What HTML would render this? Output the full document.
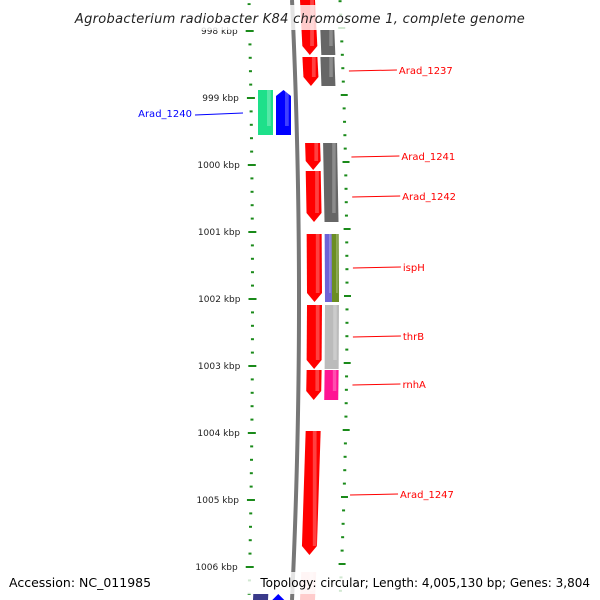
<!DOCTYPE html>
<html><head><meta charset="utf-8"><style>html,body{margin:0;background:#fff;overflow:hidden;width:600px;height:600px}svg{display:block}</style></head>
<body>
<svg id="map" width="600" height="600" viewBox="0 0 600 600" xmlns="http://www.w3.org/2000/svg" font-family="DejaVu Sans, Liberation Sans, sans-serif">
<g id="ticks"></g>
<path id="bb" fill="none" stroke="#777" stroke-width="4"/>
<g id="genes"></g>
<g id="labels"></g>
<rect x="0" y="5" width="600" height="25" fill="#fff" opacity="0.8"/>
<text x="300" y="23" text-anchor="middle" font-size="13" font-style="italic" fill="#222" font-family="DejaVu Sans, sans-serif" letter-spacing="0.3">Agrobacterium radiobacter K84 chromosome 1, complete genome</text>
<rect x="0" y="572" width="600" height="22" fill="#fff" opacity="0.8"/>
<text x="9" y="587" font-size="12.5" fill="#000" font-family="DejaVu Sans, sans-serif">Accession: NC_011985</text>
<text x="590" y="587" text-anchor="end" font-size="12" fill="#000" font-family="DejaVu Sans, sans-serif">Topology: circular; Length: 4,005,130 bp; Genes: 3,804</text>
</svg>
<script>
const kbpLabels = [998,999,1000,1001,1002,1003,1004,1005,1006];
const geneNames = ["Arad_1237","Arad_1240","Arad_1241","Arad_1242","ispH","thrB","rnhA","Arad_1247"];
const geneStart = [57,90,143,171,234,305,370,431];
const geneEnd = [86,135,170,222,302,369,400,555];
const labelY = [71,114,157,197,268,337,385,495];
const NS="http://www.w3.org/2000/svg";
function d(y){const t=(y-300)/300;return 7*(1-t*t);}
function yOfKbp(k){return 31+(k-998)*67;}
function mk(tag,attrs,parent){const e=document.createElementNS(NS,tag);for(const k in attrs)e.setAttribute(k,attrs[k]);parent.appendChild(e);return e;}
let p="";for(let y=0;y<=600;y+=10){p+=(y?"L":"M")+(292+d(y))+" "+y;}
document.getElementById('bb').setAttribute('d',p);
const tg=document.getElementById('ticks');
for(let i=-2;i<=44;i++){
  const y=yOfKbp(998)+i*13.4;const major=i%5===0;
  const xl=249+d(y)*0.5;
  const a=mk('rect',{x:xl-(major?4:1.5),y:y-1,width:major?8:3,height:2,fill:'#1a8a1a'},tg);
  
  const yr=y-3;const xr=340+d(yr);
  const b=mk('rect',{x:xr-(major?3:1.5),y:yr-1,width:major?7:3,height:2,fill:'#1a8a1a'},tg);
  
}
kbpLabels.forEach(k=>{const y=yOfKbp(k);
  const t=mk('text',{x:237+d(y)*0.5,y:y+3,'text-anchor':'end','font-size':9,fill:'#222'},tg);t.textContent=k+' kbp';
  });
const gg=document.getElementById('genes');
function gene(y0,y1,x,w,color,arrow,name,curve){
  const c=curve===undefined?1:curve;
  const o0=d(y0)*c,o1=d(y1)*c;let pts;
  if(arrow==='down')pts=[[x+o0,y0],[x+w+o0,y0],[x+w+o1,y1-9],[x+w/2+o1,y1],[x+o1,y1-9]];
  else if(arrow==='up')pts=[[x+w/2+o0,y0],[x+w+o0,y0+6],[x+w+o1,y1],[x+o1,y1],[x+o0,y0+6]];
  else pts=[[x+o0,y0],[x+w+o0,y0],[x+w+o1,y1],[x+o1,y1]];
  const e=mk('polygon',{points:pts.map(q=>q.join(',')).join(' '),fill:color},gg);
  
  const h=mk('rect',{x:x+w*0.6+(o0+o1)/2,y:y0,width:w*0.25,height:Math.max(0,y1-y0-9),fill:'#fff',opacity:0.25},gg);
  
}
gene(0,55,300,15,'#f00','down','gene-top');
gene(30,55,319,14,'#666','none','cds-top');
for(let i=0;i<geneNames.length;i++){
  const s=geneStart[i],e=geneEnd[i],n=geneNames[i];
  if(n==='Arad_1240'){gene(s,e,258,15,'#1ee08a','none','cds-'+n,0);gene(s,e,276,15,'#00f','up','gene-'+n,0);continue;}
  gene(s,e,300,15,'#f00','down','gene-'+n);
  if(n==='Arad_1247')continue;
  if(n==='ispH'){gene(s,e,318,7,'#6e63d6','none','cds-'+n);gene(s,e,325,7,'#6b8e23','none','cds2-'+n);}
  else if(n==='thrB')gene(s,e,318,14,'#bbb','none','cds-'+n);
  else if(n==='rnhA')gene(s,e,318,14,'#ff1493','none','cds-'+n);
  else if(n==='Arad_1241')gene(s,222,318,14,'#666','none','cds-'+n);
  else if(n==='Arad_1242'){}
  else gene(s,e,318,14,'#666','none','cds-'+n);
}
gene(572,600,300,15,'#fcc','none','gene-bottom');
gene(594,600,253,15,'#3a3a8a','none','cds-bottom');
gene(594,600,272,12,'#00f','up','gene-bottom-rev');
const lg=document.getElementById('labels');
geneNames.forEach((n,i)=>{const y=labelY[i];
  if(n==='Arad_1240'){
    const l=mk('line',{x1:195,y1:y+1,x2:243,y2:y-1,stroke:'#00f','stroke-width':1},lg);
    const t=mk('text',{x:192,y:y+3,'text-anchor':'end','font-size':10,fill:'#00f'},lg);t.textContent=n;return;}
  const x0=346+d(y);
  const l=mk('line',{x1:x0,y1:y,x2:x0+48,y2:y-1,stroke:'#f00','stroke-width':1},lg);
  const t=mk('text',{x:x0+50,y:y+3,'font-size':10,fill:'#f00'},lg);t.textContent=n;
});
</script>
</body></html>
